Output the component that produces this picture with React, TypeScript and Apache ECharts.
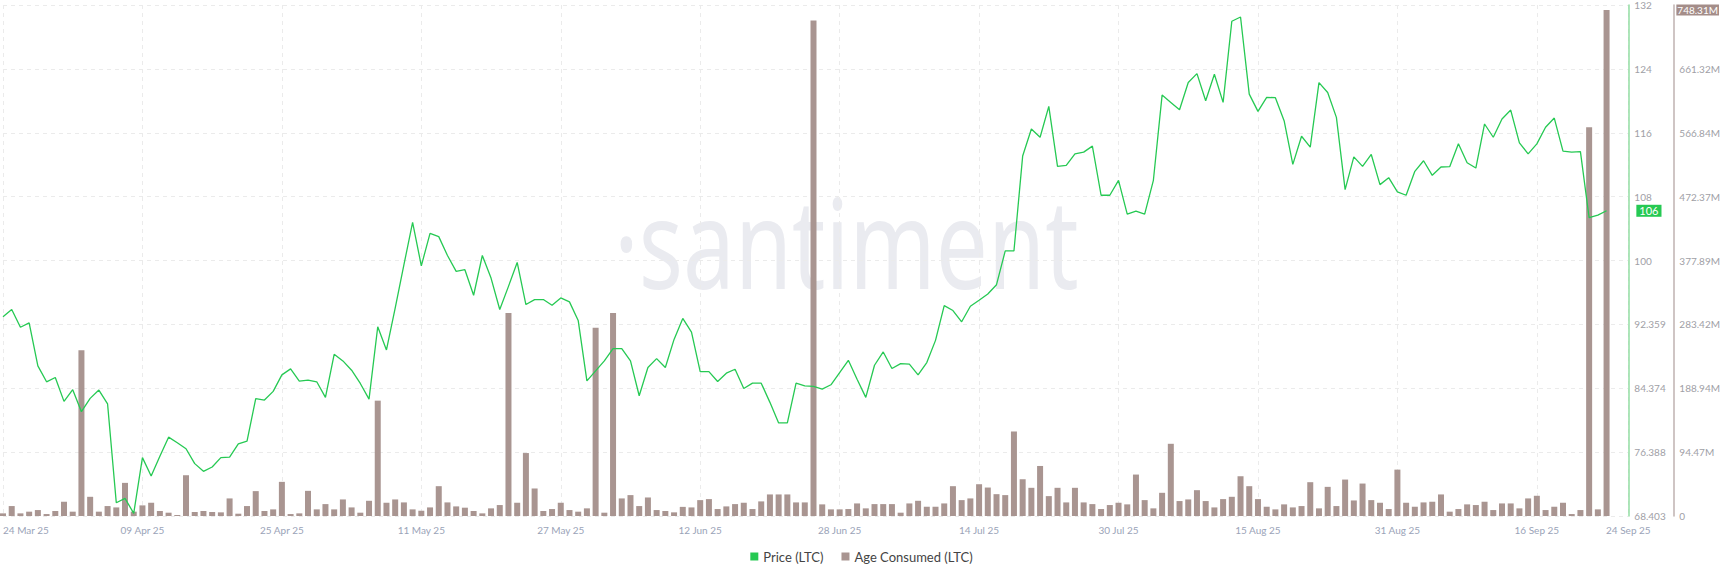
import React, { useEffect, useRef } from "react";
import * as echarts from "echarts";

// Daily LTC price, 24 Mar 25 .. 24 Sep 25 (index 0..184)
const PRICE: number[] = [
  93.3, 94.22, 92.0, 92.55, 87.17, 85.18, 85.72, 82.73, 84.19, 81.45,
  83.11, 84.15, 82.41, 70.06, 70.6, 68.74, 75.7, 73.41, 75.87, 78.26,
  77.56, 76.81, 74.95, 73.99, 74.53, 75.7, 75.77, 77.43, 77.76, 83.07,
  82.9, 83.98, 86.05, 86.8, 85.26, 85.39, 85.18, 83.23, 88.62, 87.79,
  86.63, 84.97, 83.02, 92.06, 89.16, 94.4, 99.8, 105.1, 99.68, 103.74,
  103.33, 100.97, 98.98, 99.19, 96.0, 100.97, 98.15, 94.22, 97.11, 100.1,
  94.84, 95.46, 95.46, 94.75, 95.67, 95.17, 92.85, 85.3, 86.55, 87.79,
  89.32, 89.32, 87.79, 83.44, 86.96, 88.08, 86.96, 90.48, 93.1, 91.39,
  86.46, 86.46, 85.22, 86.26, 86.75, 84.35, 85.01, 85.01, 82.61, 80.04,
  80.04, 85.01, 84.68, 84.6, 84.27, 84.81, 86.34, 87.87, 85.51, 83.23,
  87.25, 88.91, 86.84, 87.46, 87.4, 86.05, 87.58, 90.36, 94.71, 94.09,
  92.68, 94.63, 95.37, 96.16, 97.32, 101.54, 101.54, 113.4, 116.79, 115.75,
  119.61, 112.11, 112.23, 113.68, 113.89, 114.64, 108.5, 108.5, 110.37, 106.14,
  106.51, 106.14, 110.37, 121.02, 120.11, 119.19, 122.59, 123.71, 120.31, 123.63,
  120.11, 130.25, 130.79, 121.14, 118.99, 120.73, 120.7, 117.82, 112.36, 115.88,
  114.51, 122.59, 121.35, 118.24, 109.21, 113.3, 112.11, 113.6, 109.83, 110.7,
  108.92, 108.5, 111.49, 112.81, 110.99, 112.03, 112.07, 114.93, 112.56, 111.9,
  117.41, 115.75, 118.03, 119.15, 115.05, 113.68, 114.93, 117.0, 118.15, 114.01,
  113.89, 113.95, 105.69, 106.02, 106.56,
];

// Daily Age Consumed (LTC), in millions
const AGE_M: number[] = [
  3.9, 14.7, 3.9, 6.4, 8.8, 2.9, 7.4, 21.1, 6.4, 245,
  28.4, 6.4, 14.7, 12.7, 49, 6.4, 15.7, 19.6, 7.4, 4.9,
  1.5, 60.3, 5.9, 7.4, 5.9, 5.4, 26, 3.4, 14.7, 36.8,
  7.4, 9.8, 50.5, 2.9, 3.9, 37.2, 9.8, 17.6, 9.8, 24.5,
  12.7, 4.9, 22.5, 170.6, 19.6, 24.5, 20.1, 9.8, 7.8, 12.7,
  44.1, 20.1, 14.2, 12.3, 7.4, 3.9, 11.3, 16.2, 300.4, 19.6,
  93.1, 40.7, 7.4, 10.3, 19.6, 8.8, 6.4, 11.3, 278.4, 4.9,
  300.4, 26, 30.9, 14.7, 27.4, 8.8, 7.4, 5.4, 13.5, 12.7,
  23.5, 25, 10.3, 14.2, 17.6, 19.6, 10.3, 21.6, 31.9, 31.9,
  31.9, 20.1, 20.1, 732.7, 17.2, 9.8, 9.8, 10.3, 18.6, 11.3,
  17.6, 17.6, 17.6, 4.9, 18.6, 22.5, 13.7, 13.7, 18.6, 44.1,
  23.5, 26, 47, 42.1, 32.3, 30.9, 125, 54.2, 41.7, 74,
  29.4, 41.7, 20.1, 41.7, 20.1, 17.6, 10.3, 16.2, 19.6, 17.2,
  61.3, 23.5, 11.3, 34.3, 106.8, 22.1, 24.5, 38.2, 22.1, 12.7,
  25, 28.4, 58.8, 44.1, 25, 13.7, 9.8, 17.2, 12.7, 14.7,
  50, 11.3, 43.1, 14.7, 53.9, 23, 48, 23.5, 19.6, 10.3,
  68.6, 19.6, 13.7, 20.1, 21.1, 31.9, 6.4, 10.3, 17.2, 16.2,
  21.1, 8.8, 18.6, 18.6, 11.3, 26, 29.9, 8.8, 13.7, 19.6,
  2.9, 8.8, 574.9, 9.8, 748.31,
];

const DATE_TICK_LABELS = [
  "24 Mar 25", "09 Apr 25", "25 Apr 25", "11 May 25", "27 May 25", "12 Jun 25",
  "28 Jun 25", "14 Jul 25", "30 Jul 25", "15 Aug 25", "31 Aug 25", "16 Sep 25",
];
const LAST_DATE_LABEL = "24 Sep 25";
const PRICE_TICK_LABELS = ["68.403", "76.388", "84.374", "92.359", "100", "108", "116", "124", "132"];
const AGE_TICK_LABELS = ["0", "94.47M", "188.94M", "283.42M", "377.89M", "472.37M", "566.84M", "661.32M", "755.79M"];

const X_STEP = 16;
const X_MAX = 186.5;
const PRICE_MIN = 68.403;
const PRICE_STEP = 7.9853;
const AGE_STEP = 94.4737;

const GREEN = "#26c953";
const BROWN = "#a99591";

export default function App() {
  const ref = useRef<HTMLDivElement>(null);

  useEffect(() => {
    if (!ref.current) return;
    const chart = echarts.init(ref.current, undefined, { renderer: "svg" });
    const lastPrice = PRICE[PRICE.length - 1];
    const lastAge = AGE_M[AGE_M.length - 1];

    const option: any = {
      animation: false,
      backgroundColor: "#ffffff",
      textStyle: { fontFamily: "Lato, 'Noto Sans', sans-serif" },
      graphic: [
        {
          type: "text",
          x: 614,
          y: 240,
          scaleX: 0.74,
          z: 0,
          silent: true,
          style: {
            text: "·santiment",
            fontSize: 125,
            fontFamily: "'Noto Sans'",
            fill: "#eaebf0",
            align: "left",
            verticalAlign: "middle",
          },
        },
      ],
      grid: { left: 0, right: 87, top: 2, bottom: 62, containLabel: false },
      legend: {
        bottom: 10,
        left: "center",
        icon: "rect",
        itemWidth: 8,
        itemHeight: 8,
        itemGap: 18,
        textStyle: { color: "#444", fontSize: 13, fontFamily: "Lato" },
        data: ["Price (LTC)", "Age Consumed (LTC)"],
      },
      xAxis: {
        type: "value",
        min: 0,
        max: X_MAX,
        interval: X_STEP,
        axisLine: { show: false },
        axisTick: { show: false },
        splitLine: { show: true, lineStyle: { color: "#ebebeb", type: [4, 4] } },
        axisLabel: {
          color: "#9aa3b8",
          fontSize: 10,
          margin: 9,
          alignMinLabel: "left",
          formatter: (v: number) => {
            if (Math.abs(v - X_MAX) < 0.01) return LAST_DATE_LABEL;
            return DATE_TICK_LABELS[Math.round(v / X_STEP)] ?? "";
          },
        },
      },
      yAxis: [
        {
          type: "value",
          position: "right",
          min: PRICE_MIN,
          max: PRICE_MIN + 8 * PRICE_STEP,
          interval: PRICE_STEP,
          axisLine: { show: true, onZero: false, lineStyle: { color: "#93dea3", width: 1.5 } },
          axisTick: { show: false },
          splitLine: { show: true, lineStyle: { color: "#ebebeb", type: [4, 4] } },
          axisLabel: {
            color: "#a0a0a6",
            fontSize: 10,
            margin: 6,
            formatter: (v: number) => PRICE_TICK_LABELS[Math.round((v - PRICE_MIN) / PRICE_STEP)] ?? "",
          },
        },
        {
          type: "value",
          position: "right",
          offset: 45,
          min: 0,
          max: 8 * AGE_STEP,
          interval: AGE_STEP,
          axisLine: { show: true, onZero: false, lineStyle: { color: "#bfb2b0", width: 1.5 } },
          axisTick: { show: false },
          splitLine: { show: false },
          axisLabel: {
            color: "#a0a0a6",
            fontSize: 10,
            margin: 6,
            showMaxLabel: false,
            formatter: (v: number) => AGE_TICK_LABELS[Math.round(v / AGE_STEP)] ?? "",
          },
        },
      ],
      series: [
        {
          name: "Age Consumed (LTC)",
          type: "bar",
          yAxisIndex: 1,
          barWidth: 6,
          itemStyle: { color: BROWN },
          data: AGE_M.map((v, i) => [i, v]),
          z: 2,
          markLine: {
            silent: true,
            symbol: ["none", "none"],
            lineStyle: { color: "transparent", width: 0, type: "solid" },
            data: [{ yAxis: lastAge }],
            label: {
              show: true,
              position: "end",
              distance: 48,
              formatter: (p: any) => Number(p.value).toFixed(2) + "M",
              color: "#ffffff",
              backgroundColor: "#a48d89",
              padding: [1, 1, 0, 1],
              fontSize: 10,
            },
          },
        },
        {
          name: "Price (LTC)",
          type: "line",
          yAxisIndex: 0,
          showSymbol: false,
          symbol: "none",
          lineStyle: { color: GREEN, width: 1.3 },
          itemStyle: { color: GREEN },
          data: PRICE.map((v, i) => [i, v]),
          z: 3,
          markLine: {
            silent: true,
            symbol: ["none", "none"],
            lineStyle: { color: "transparent", width: 0, type: "solid" },
            data: [{ yAxis: lastPrice }],
            label: {
              show: true,
              position: "end",
              distance: 8,
              formatter: (p: any) => String(Math.floor(Number(p.value))),
              color: "#ffffff",
              backgroundColor: GREEN,
              padding: [1, 3, 0, 3],
              fontSize: 11,
            },
          },
        },
      ],
    };
    chart.setOption(option);
    return () => chart.dispose();
  }, []);

  return (
    <div
      ref={ref}
      style={{ position: "fixed", left: 0, top: 0, width: "1723px", height: "578px", background: "#fff" }}
    />
  );
}
